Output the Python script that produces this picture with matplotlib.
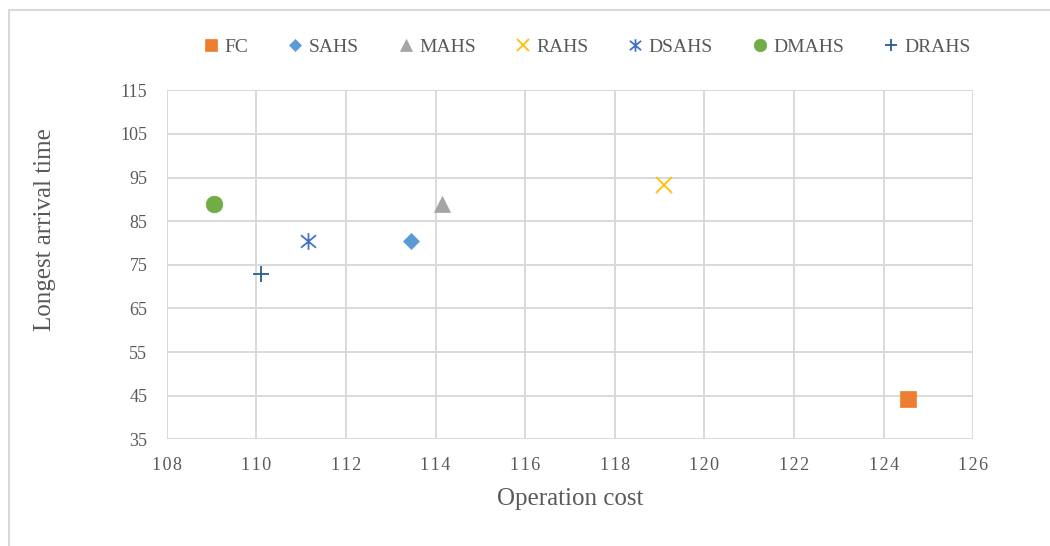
import matplotlib
matplotlib.use("Agg")
import matplotlib.pyplot as plt
from matplotlib.path import Path
from matplotlib.patches import Rectangle

# Scheme results: operation cost vs. longest arrival time
schemes = ["FC", "SAHS", "MAHS", "RAHS", "DSAHS", "DMAHS", "DRAHS"]
operation_cost = [124.55, 113.45, 114.15, 119.1, 111.15, 109.05, 110.1]
arrival_time = [44.2, 80.5, 89.0, 93.2, 80.5, 89.0, 72.9]

x_ticks = [108, 110, 112, 114, 116, 118, 120, 122, 124, 126]
y_ticks = [35, 45, 55, 65, 75, 85, 95, 105, 115]

# asterisk marker: a cross with a vertical bar through it
asterisk = Path(
    [(0, -1), (0, 1), (-0.9, -0.75), (0.9, 0.75), (-0.9, 0.75), (0.9, -0.75)],
    [Path.MOVETO, Path.LINETO, Path.MOVETO, Path.LINETO, Path.MOVETO, Path.LINETO],
)

styles = {
    "FC":    dict(marker="s", color="#ED7D31", ms=11.5, filled=True),
    "SAHS":  dict(marker="D", color="#5B9BD5", ms=8.0, filled=True),
    "MAHS":  dict(marker="^", color="#A5A5A5", ms=12.0, filled=True),
    "RAHS":  dict(marker="x", color="#FFC000", ms=11.0, filled=False),
    "DSAHS": dict(marker=asterisk, color="#4472C4", ms=12.0, filled=False),
    "DMAHS": dict(marker="o", color="#70AD47", ms=12.0, filled=True),
    "DRAHS": dict(marker="+", color="#255E91", ms=11.0, filled=False),
}

plt.rcParams["font.family"] = ["Liberation Serif", "DejaVu Serif"]
text_color = "#595959"
grid_color = "#D9D9D9"

fig = plt.figure(figsize=(10.5, 5.46), dpi=100)
ax = fig.add_axes([0.1588, 0.1954, 0.7682, 0.6392])

# light chart frame
fig.patches.append(Rectangle((9 / 1050, -0.05), 1.2, 1 - 9.5 / 546 + 0.05,
                             transform=fig.transFigure, fill=False,
                             edgecolor="#D9D9D9", linewidth=1.5, zorder=0))

handles = []
for name, xv, yv in zip(schemes, operation_cost, arrival_time):
    st = styles[name]
    if st["filled"]:
        kw = dict(markerfacecolor=st["color"], markeredgecolor=st["color"],
                  markeredgewidth=0.5)
    else:
        kw = dict(markerfacecolor="none", markeredgecolor=st["color"],
                  markeredgewidth=1.3)
    h, = ax.plot([xv], [yv], linestyle="none", marker=st["marker"],
                 markersize=st["ms"], label=name, zorder=3, **kw)
    handles.append(h)

ax.set_xlim(108, 126)
ax.set_ylim(35, 115)
ax.set_xticks(x_ticks)
ax.set_yticks(y_ticks)
# x tick labels are drawn slightly letter-spaced
ax.set_xticklabels(["\u200a".join(str(v)) for v in x_ticks])
ax.set_yticklabels([str(v) for v in y_ticks])
ax.grid(True, color=grid_color, linewidth=1.4)
ax.set_axisbelow(True)
for s in ax.spines.values():
    s.set_visible(False)
ax.tick_params(axis="both", length=0, labelsize=13, labelcolor=text_color)
ax.tick_params(axis="x", pad=13)
ax.tick_params(axis="y", pad=14)

ax.set_xlabel("Operation cost", fontsize=18, color=text_color, labelpad=10)
ax.set_ylabel("Longest arrival time", fontsize=18, color=text_color)
ax.yaxis.set_label_coords(-0.137, 0.6)

leg = fig.legend(handles=handles, loc="center", ncol=7,
                 bbox_to_anchor=(587 / 1050, 1 - 47 / 546),
                 frameon=False, fontsize=14, handlelength=0.8,
                 handletextpad=0.3, columnspacing=2.0, markerscale=0.75,
                 borderaxespad=0)
for t in leg.get_texts():
    t.set_color(text_color)

fig.savefig("out.png", dpi=100)
